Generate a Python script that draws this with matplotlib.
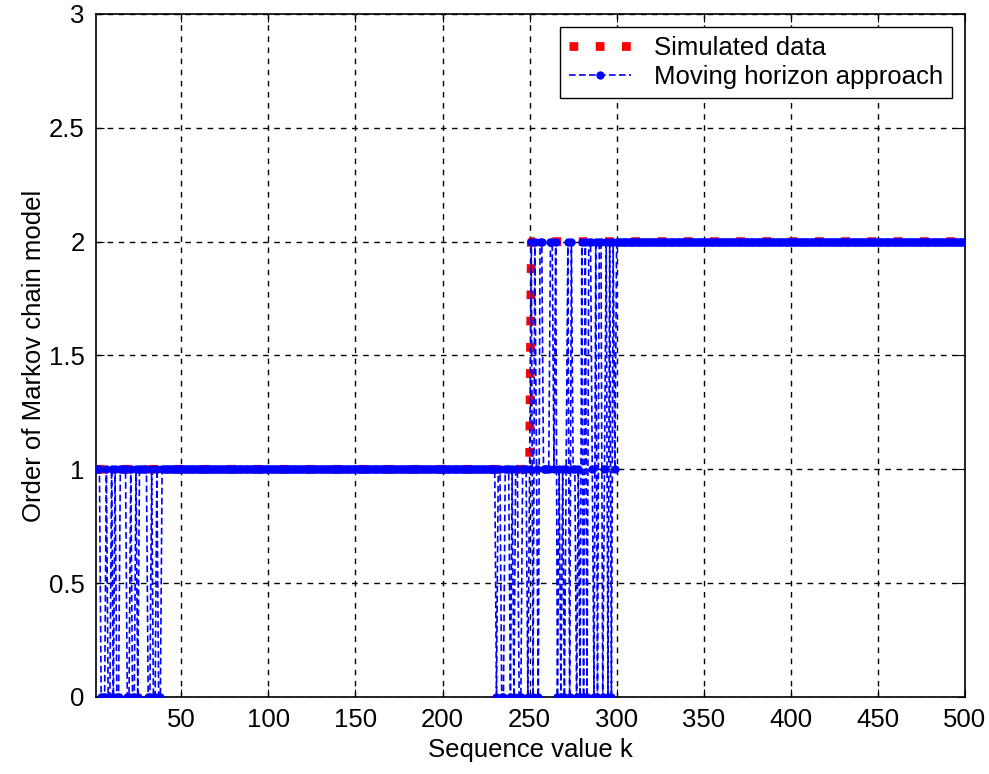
import numpy as np
import matplotlib.pyplot as plt

plt.rcParams['font.family'] = ['Liberation Sans', 'DejaVu Sans']

# sequence index
k = np.arange(1, 501)

# simulated data: (first k, last k, order)
sim_segments = [(1, 250, 1), (251, 500, 2)]

# moving horizon estimate
mh_segments = [(1, 227, 1), (301, 500, 2)]
mh_zero_k = [4, 5, 6, 8, 9, 11, 13, 14, 19, 20, 22, 23, 25, 31, 32, 34, 35, 37, 38]
mh_window_start = 228
mh_window_vals = [1, 1, 1, 0, 1, 1, 0, 0, 1, 1, 1, 0, 1, 0, 1, 1, 0, 0, 1, 1,
                  1, 0, 1, 2, 0, 2, 1, 0, 2, 2, 1, 1, 1, 1, 2, 2, 1, 2, 0, 1,
                  0, 1, 0, 1, 2, 0, 2, 1, 1, 0, 1, 0, 2, 0, 2, 0, 2, 2, 1, 0,
                  2, 0, 2, 2, 0, 1, 2, 0, 2, 0, 2, 1, 2]

simulated = np.zeros(len(k))
for a, b, v in sim_segments:
    simulated[(k >= a) & (k <= b)] = v

moving = np.zeros(len(k))
for a, b, v in mh_segments:
    moving[(k >= a) & (k <= b)] = v
moving[np.isin(k, mh_zero_k)] = 0
idx = mh_window_start - 1
moving[idx:idx + len(mh_window_vals)] = mh_window_vals

fs = 18.5

fig = plt.figure(figsize=(9.89, 7.74), dpi=100)
ax = fig.add_axes([0.097, 0.0995, 0.8787, 0.8825])

ax.plot(k, simulated, color='red', linewidth=6.3, linestyle=(0, (1, 2)),
        dash_capstyle='butt', label='Simulated data', zorder=3)
ax.plot(k, moving, color='blue', linewidth=1.2, linestyle=(0, (4, 2)),
        marker='o', markersize=6, markeredgewidth=0,
        label='Moving horizon approach', zorder=4)

ax.set_xlim(1, 500)
ax.set_ylim(0, 3)
ax.set_xticks(np.arange(50, 501, 50))
ax.set_yticks(np.arange(0, 3.01, 0.5))
ax.set_yticklabels(['0', '0.5', '1', '1.5', '2', '2.5', '3'])
ax.tick_params(direction='in', top=True, right=True, labelsize=fs, length=6, pad=8)
ax.grid(True, color='black', linestyle=(0, (4, 4)), linewidth=1)

for s in ax.spines.values():
    s.set_linewidth(1.2)

ax.set_xlabel('Sequence value k', fontsize=fs, labelpad=4)
ax.set_ylabel('Order of Markov chain model', fontsize=fs, labelpad=2)

leg = ax.legend(loc='upper right', fontsize=fs, numpoints=1, handlelength=2.4,
                fancybox=False, framealpha=1, edgecolor='black',
                borderaxespad=0.5, borderpad=0.35, labelspacing=0.2,
                handletextpad=0.9)
leg.get_frame().set_linewidth(1)

plt.savefig('out.png', dpi=100)
